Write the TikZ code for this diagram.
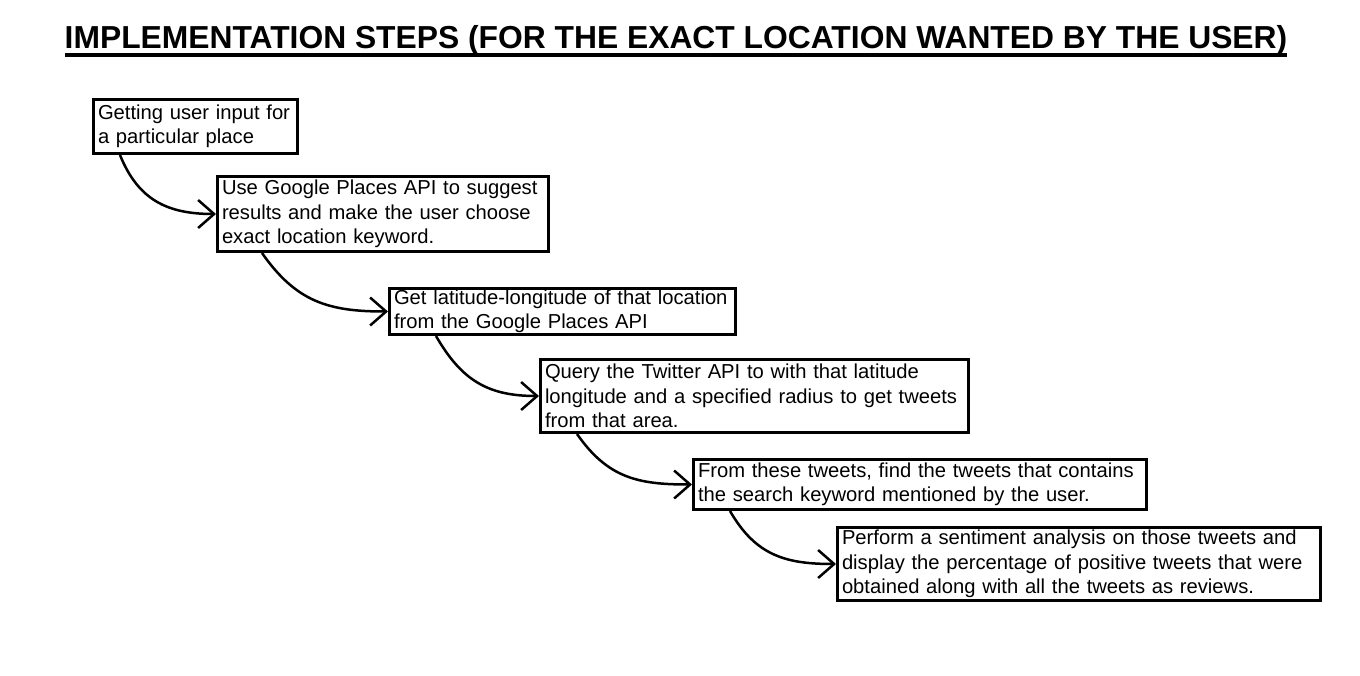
\documentclass[tikz,border=0pt]{standalone}
\usepackage{fontspec}
\setmainfont{Liberation Sans}
\usetikzlibrary{arrows.meta}
\hyphenpenalty=10000
\tikzset{
  stepbox/.style={draw, line width=3pt, anchor=north west, align=left, inner xsep=4.5pt, inner ysep=0pt, font=\fontsize{20.2}{24.3}\selectfont},
  flow/.style={line width=2.5pt, -{Straight Barb[length=16pt,width=28pt]}}
}

\begin{document}
\begin{tikzpicture}[x=1pt,y=1pt]
\useasboundingbox (0,0) rectangle (1360,-675);
\node[anchor=base, inner sep=0pt, font=\fontsize{31.8}{36}\selectfont\bfseries] (title) at (676,-48) {IMPLEMENTATION STEPS (FOR THE EXACT LOCATION WANTED BY THE USER)};
\draw[line width=3.5pt] ([yshift=-7pt]title.base west) -- ([yshift=-7pt]title.base east);
\node[stepbox, text width=195pt, minimum height=54pt] (input) at (92,-98) {Getting user input for\\a particular place};
\node[stepbox, text width=322pt, minimum height=75pt] (places) at (216,-175) {Use Google Places API to suggest\\results and make the user choose\\exact location keyword.};
\node[stepbox, text width=337pt, minimum height=46pt] (latlong) at (388,-287) {Get latitude-longitude of that location\\from the Google Places API};
\node[stepbox, text width=419pt, minimum height=73pt] (twitter) at (539,-358) {Query the Twitter API to with that latitude\\longitude and a specified radius to get tweets\\from that area.};
\node[stepbox, text width=444pt, minimum height=50pt] (filter) at (692,-458) {From these tweets, find the tweets that contains\\the search keyword mentioned by the user.};
\node[stepbox, text width=474pt, minimum height=73pt] (sentiment) at (836,-526) {Perform a sentiment analysis on those tweets and\\display the percentage of positive tweets that were\\obtained along with all the tweets as reviews.};
\draw[flow] ([xshift=28pt]input.south west) to[out=-68, in=180, looseness=1.1] (places.west);
\draw[flow] ([xshift=46pt]places.south west) to[out=-55, in=180, looseness=1.1] (latlong.west);
\draw[flow] ([xshift=48pt]latlong.south west) to[out=-60, in=180, looseness=1.1] (twitter.west);
\draw[flow] ([xshift=38pt]twitter.south west) to[out=-55, in=180, looseness=1.1] (filter.west);
\draw[flow] ([xshift=38pt]filter.south west) to[out=-60, in=180, looseness=1.1] (sentiment.west);
\end{tikzpicture}
\end{document}
